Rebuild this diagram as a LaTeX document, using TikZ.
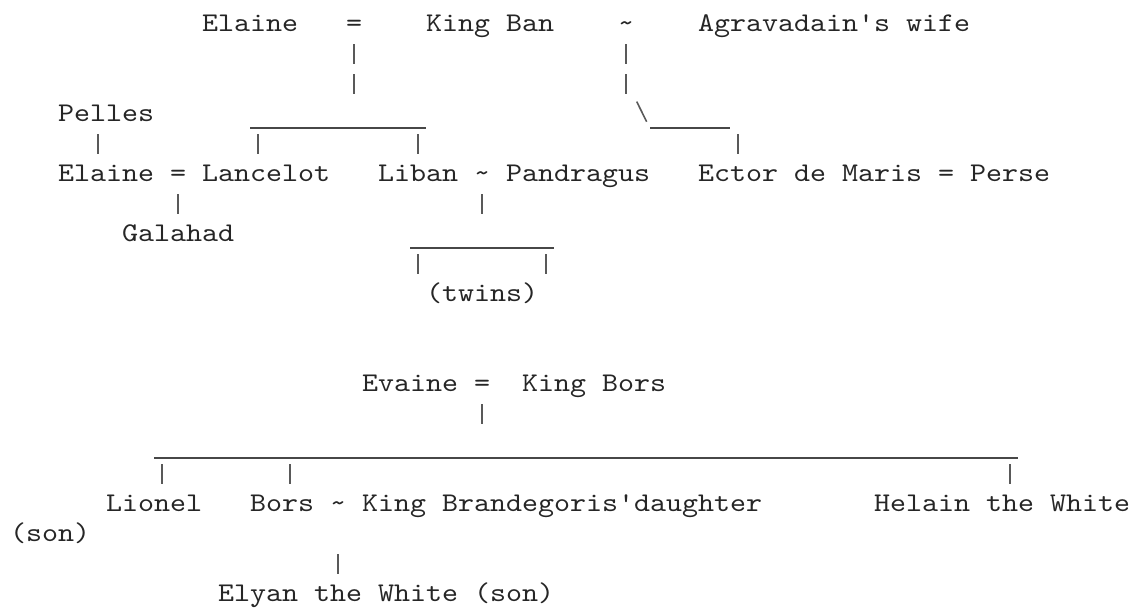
\documentclass[tikz,border=0pt]{standalone}
\usepackage{fontspec}
\usepackage{tikz}
\newfontfamily\asciimono{lmmono10-regular.otf}[FakeStretch=1.129]
\tikzset{
    who/.style={anchor=base west, inner sep=0pt, outer sep=0pt, text=black!85, font=\asciimono\fontsize{27}{30}\selectfont},
    stub/.style={black!65, line width=1.6pt},
    bar/.style={black!72, line width=1.5pt}
}

\begin{document}
\begin{tikzpicture}[x=16pt, y=-30pt]
    \useasboundingbox (-0.625,-1.0567) rectangle (70.3125,19.4067);

    \node [who] (elaine) at (12,0) {Elaine}; \node [who] (wed1) at (21,0) {=};
    \node [who] (ban) at (26,0) {King Ban}; \node [who] (liaison1) at (38,0) {\textasciitilde};
    \node [who] (agrawife) at (43,0) {Agravadain's wife};

    \node [who] (pelles) at (3,3) {Pelles};
    \node [who] (elaine2) at (3,5) {Elaine}; \node [who] (wed2) at (10,5) {=};
    \node [who] (lancelot) at (12,5) {Lancelot};
    \node [who] (liban) at (23,5) {Liban}; \node [who] (liaison2) at (29,5) {\textasciitilde};
    \node [who] (pandragus) at (31,5) {Pandragus};
    \node [who] (ector) at (43,5) {Ector de Maris}; \node [who] (wed3) at (58,5) {=};
    \node [who] (perse) at (60,5) {Perse};
    \node [who] (galahad) at (7,7) {Galahad};
    \node [who] (twins) at (26,9) {(twins)};

    \node [who] (evaine) at (22,12) {Evaine}; \node [who] (wed4) at (29,12) {=};
    \node [who] (kingbors) at (32,12) {King Bors};
    \node [who] (lionel) at (6,16) {Lionel};
    \node [who] (bors) at (15,16) {Bors}; \node [who] (liaison3) at (20,16) {\textasciitilde};
    \node [who] (brandaughter) at (22,16) {King Brandegoris'daughter};
    \node [who] (helain) at (54,16) {Helain the White};
    \node [who] (sonnote) at (0,17) {(son)};
    \node [who] (elyan) at (13,19) {Elyan the White (son)};

    \foreach \c/\r in {21/1,38/1,21/2,38/2,5/4,15/4,25/4,45/4,10/6,29/6,25/8,33/8,29/13,9/15,17/15,62/15,20/18}
        \draw [stub] (\c+0.5,\r-0.59) -- (\c+0.5,\r+0.08);

    \draw [bar] (15,3.21) -- (26,3.21);
    \draw [stub] (39.17,2.33) -- (39.79,3);
    \draw [bar] (40,3.21) -- (45,3.21);
    \draw [bar] (25,7.21) -- (34,7.21);
    \draw [bar] (9,14.21) -- (63,14.21);
\end{tikzpicture}
\end{document}
